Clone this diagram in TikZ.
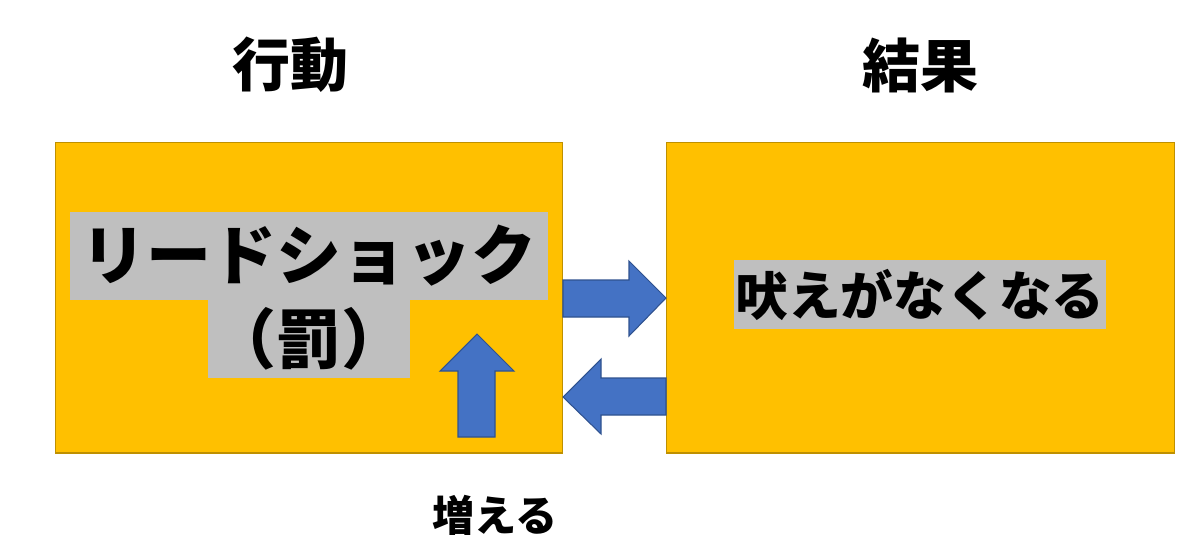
\documentclass[tikz,border=0pt]{standalone}
\usepackage{fontspec}
\newfontfamily\jpfont{Noto Sans CJK JP}
\usetikzlibrary{positioning}

\definecolor{panelfill}{HTML}{FFC000}
\definecolor{panelline}{HTML}{BF9000}
\definecolor{hlgray}{HTML}{BFBFBF}
\definecolor{arrowblue}{HTML}{4472C4}
\definecolor{arrowline}{HTML}{2F528F}

\tikzset{
  panel/.style={draw=panelline, fill=panelfill, line width=0.6pt,
    minimum width=10.16cm, minimum height=6.22cm, inner sep=0pt},
  heading/.style={font=\jpfont\bfseries\fontsize{33}{36}\selectfont},
  bigtext/.style={font=\jpfont\bfseries\fontsize{37}{40}\selectfont, inner sep=0pt},
  midtext/.style={font=\jpfont\bfseries\fontsize{30}{33}\selectfont, inner sep=0pt},
  blockarrow/.style={draw=arrowline, fill=arrowblue, line width=0.6pt, line join=miter},
}

\begin{document}
\begin{tikzpicture}[x=0.02cm, y=-0.02cm]
  \useasboundingbox (0,0) rectangle (1200,558);
  % headings
  \node[heading] (acttitle) at (290,65) {行動};
  \node[heading] (restitle) at (920,65) {結果};
  % the two panels
  \node[panel] (act) at (309,297.5) {};
  \node[panel] (res) at (920.5,297.5) {};
  % highlighted labels
  \fill[hlgray] (70,212) rectangle (548,300);
  \fill[hlgray] (208,300) rectangle (410,378);
  \node[bigtext] (lead) at (309,256) {リードショック};
  \node[bigtext] (punish) at (309,339) {（罰）};
  \fill[hlgray] (734,260) rectangle (1106,329);
  \node[midtext] (bark) at (920,295) {吠えがなくなる};
  % block arrows
  \draw[blockarrow] (563,280) -- (629,280) -- (629,261) -- (666,298)
    -- (629,336) -- (629,317) -- (563,317) -- cycle;
  \draw[blockarrow] (666,378) -- (601,378) -- (601,359) -- (563,397)
    -- (601,434) -- (601,415) -- (666,415) -- cycle;
  \draw[blockarrow] (458,437) -- (458,371) -- (440,371) -- (477,334)
    -- (514,371) -- (495,371) -- (495,437) -- cycle;
  \node[font=\jpfont\bfseries\fontsize{24}{27}\selectfont] (more) at (495,515) {増える};
\end{tikzpicture}
\end{document}
